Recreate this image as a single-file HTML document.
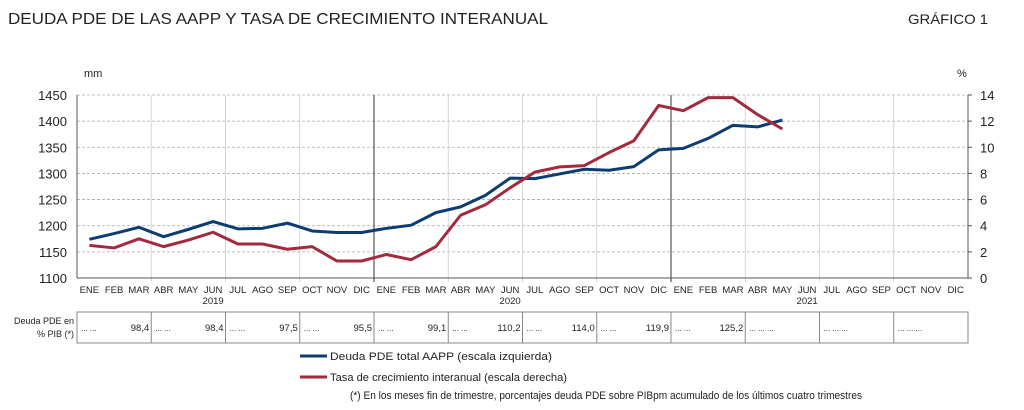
<!DOCTYPE html>
<html><head><meta charset="utf-8"><style>
body{margin:0;background:#fff;width:1024px;height:405px;overflow:hidden;font-family:"Liberation Sans",sans-serif}
svg text{font-family:"Liberation Sans",sans-serif;fill:#222}
</style></head><body>
<svg id="c" width="1024" height="405">
<text x="8" y="24" font-size="16" textLength="540" lengthAdjust="spacingAndGlyphs">DEUDA PDE DE LAS AAPP Y TASA DE CRECIMIENTO INTERANUAL</text>
<text x="908" y="24" font-size="14" textLength="80" lengthAdjust="spacingAndGlyphs">GRÁFICO 1</text>
<text x="84" y="77" font-size="11">mm</text>
<text x="957" y="77" font-size="11">%</text>
<g id="grid"></g><g id="axes"></g><g id="series"></g><g id="table"></g>
<line x1="300" y1="356" x2="327" y2="356" stroke="#0d3c73" stroke-width="3"/>
<text x="330" y="360" font-size="11" textLength="222" lengthAdjust="spacingAndGlyphs">Deuda PDE total AAPP (escala izquierda)</text>
<line x1="300" y1="377" x2="327" y2="377" stroke="#a32a3c" stroke-width="3"/>
<text x="330" y="381" font-size="11" textLength="237" lengthAdjust="spacingAndGlyphs">Tasa de crecimiento interanual (escala derecha)</text>
<text x="350" y="399" font-size="11" textLength="512" lengthAdjust="spacingAndGlyphs">(*) En los meses fin de trimestre, porcentajes deuda PDE sobre PIBpm acumulado de los últimos cuatro trimestres</text>
</svg>
<script>
const months=["ENE","FEB","MAR","ABR","MAY","JUN","JUL","AGO","SEP","OCT","NOV","DIC"];
const years=["2019","2020","2021"];
const leftTicks=[1100,1150,1200,1250,1300,1350,1400,1450];
const rightTicks=[0,2,4,6,8,10,12,14];
const debt=[1174,1185,1197,1179,1193,1208,1194,1195,1205,1190,1187,1187,1195,1201,1225,1236,1258,1291,1290,1299,1308,1306,1313,1345,1348,1367,1392,1389,1402];
const growth=[2.5,2.3,3.0,2.4,2.9,3.5,2.6,2.6,2.2,2.4,1.3,1.3,1.8,1.4,2.4,4.8,5.6,6.9,8.1,8.5,8.6,9.6,10.5,13.2,12.8,13.8,13.8,12.5,11.4];
const pibVals=["98,4","98,4","97,5","95,5","99,1","110,2","114,0","119,9","125,2","","",""];
const X0=77,X1=968,Y0=278,Y1=95,NM=36,mw=(X1-X0)/NM;
const xm=i=>X0+(i+0.5)*mw;
const yl=v=>Y0-(v-1100)/350*(Y0-Y1);
const yr=v=>Y0-v/14*(Y0-Y1);
const NS="http://www.w3.org/2000/svg";
function mk(p,t,a){const e=document.createElementNS(NS,t);for(const k in a)e.setAttribute(k,a[k]);p.appendChild(e);return e;}
const grid=document.getElementById('grid'),axes=document.getElementById('axes'),ser=document.getElementById('series'),tb=document.getElementById('table');
leftTicks.forEach((v,i)=>{
  if(i>0){const g=mk(grid,'line',{x1:X0,x2:X1,y1:yl(v),y2:yl(v),stroke:'#aaa','stroke-dasharray':'3,2','stroke-width':0.8});
  
  }
  const t=mk(axes,'text',{x:X0-10,y:yl(v)+5,'font-size':13,'text-anchor':'end'});t.textContent=v;
  
  
});
rightTicks.forEach(v=>{
  const t=mk(axes,'text',{x:X1+12,y:yr(v)+5,'font-size':13});t.textContent=v;
  
  
  mk(axes,'line',{x1:X1,x2:X1+4,y1:yr(v),y2:yr(v),stroke:'#555'});
});
for(let q=1;q<12;q++){
  const x=X0+q*3*mw;const yb=q%4==0;
  const l=mk(grid,'line',{x1:x,x2:x,y1:Y1,y2:Y0+4,stroke:yb?'#333':'#ccc','stroke-width':yb?1:0.8});
  
  
}
mk(axes,'line',{x1:X0,x2:X0,y1:Y1,y2:Y0,stroke:'#555'});
mk(axes,'line',{x1:X1,x2:X1,y1:Y1,y2:Y0,stroke:'#555'});
mk(axes,'line',{x1:X0,x2:X1,y1:Y0,y2:Y0,stroke:'#555'});
for(let i=0;i<NM;i++){
  const t=mk(axes,'text',{x:xm(i),y:Y0+15,'font-size':9.5,'text-anchor':'middle'});t.textContent=months[i%12];
  
  
}
years.forEach((y,k)=>{const t=mk(axes,'text',{x:xm(k*12+5),y:Y0+26,'font-size':9.5,'text-anchor':'middle'});t.textContent=y;
  
  });
const p1=mk(ser,'polyline',{points:debt.map((v,i)=>xm(i)+','+yl(v)).join(' '),fill:'none',stroke:'#0d3c73','stroke-width':3,'stroke-linejoin':'round'});


const p2=mk(ser,'polyline',{points:growth.map((v,i)=>xm(i)+','+yr(v)).join(' '),fill:'none',stroke:'#a32a3c','stroke-width':3,'stroke-linejoin':'round'});


const TY0=312,TY1=343;
mk(tb,'rect',{x:X0,y:TY0,width:X1-X0,height:TY1-TY0,fill:'none',stroke:'#888'});
const a=mk(tb,'text',{x:74,y:324,'font-size':9,'text-anchor':'end'});a.textContent='Deuda PDE en';


const b=mk(tb,'text',{x:74,y:337,'font-size':9,'text-anchor':'end'});b.textContent='% PIB (*)';


for(let q=0;q<12;q++){
  const x=X0+q*3*mw;
  if(q>0)mk(tb,'line',{x1:x,x2:x,y1:TY0,y2:TY1,stroke:'#888'});
  const dots=mk(tb,'text',{x:x+4,y:331,'font-size':8,fill:'#999'});dots.textContent=pibVals[q]?'...     ...':'...   ...   ...';
  
  
  if(pibVals[q]){const t=mk(tb,'text',{x:x+3*mw-2,y:331,'font-size':9.5,'text-anchor':'end'});t.textContent=pibVals[q];
  
  }
}
</script>
</body></html>
